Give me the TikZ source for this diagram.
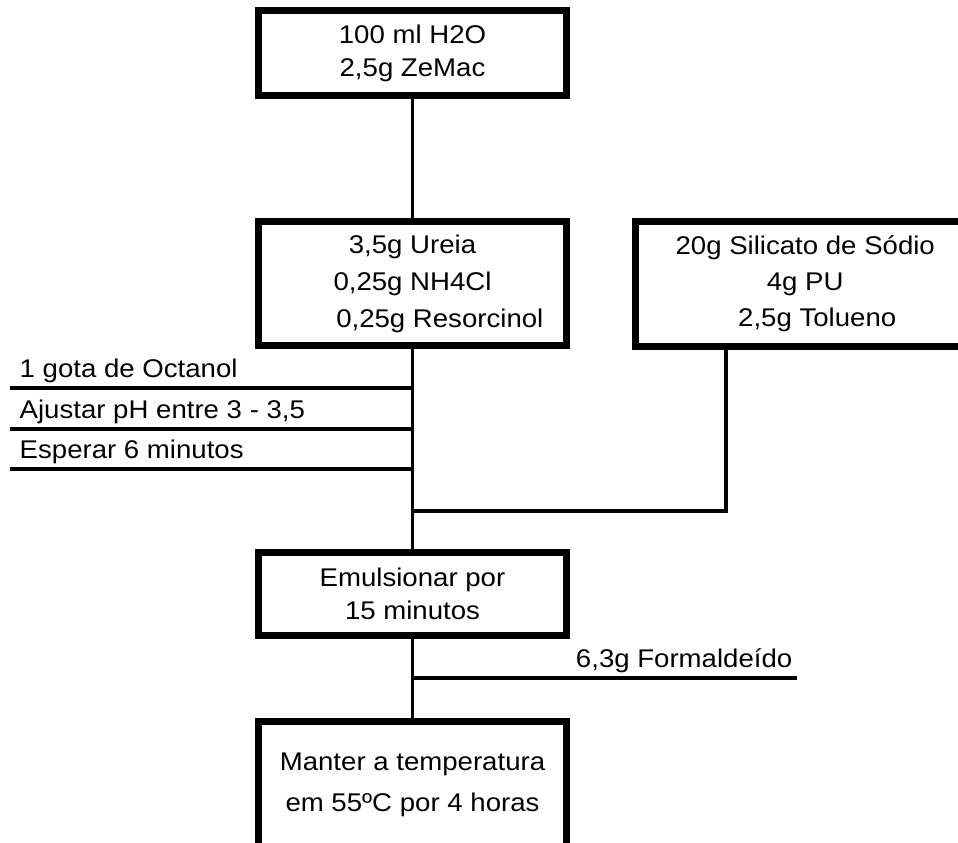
\documentclass[tikz,border=0pt]{standalone}
\usepackage{fontspec}
\setmainfont[FakeStretch=1.078]{Liberation Sans}
\tikzset{
  etapa/.style={draw,line width=5.25pt,inner sep=0pt,outer sep=0pt,align=center,minimum width=231pt},
  liga/.style={line width=2.4pt},
}
\begin{document}
\begin{tikzpicture}[x=0.75pt,y=-0.75pt,font=\fontsize{19.2pt}{24.75pt}\selectfont]
  \useasboundingbox (0,0) rectangle (958,843);
  \clip (0,0) rectangle (958,843);
  % etapas
  \node[etapa,minimum height=63.75pt] (h2o) at (412.5,53) {100 ml H2O\\2,5g ZeMac};
  \node[etapa,minimum height=93pt,font=\fontsize{19.2pt}{27.75pt}\selectfont] (ureia) at (412.5,283.5)
    {3,5g Ureia\\0,25g NH4Cl\\\hspace*{41pt}0,25g Resorcinol};
  \node[etapa,minimum height=93.75pt,minimum width=254.6pt,font=\fontsize{19.2pt}{27pt}\selectfont] (silicato) at (805.25,284)
    {20g Silicato de Sódio\\4g PU\hspace*{12pt}\\\hspace*{18pt}2,5g Tolueno};
  \node[etapa,minimum height=62.25pt] (emuls) at (412.5,594) {Emulsionar por\\15 minutos};
  \node[etapa,minimum height=94.9pt,font=\fontsize{19.2pt}{30.75pt}\selectfont] (manter) at (412.5,785)
    {Manter a temperatura\\em 55ºC por 4 horas};
  % ligacoes
  \draw[liga] (h2o) -- (ureia);
  \draw[liga] (ureia) -- (emuls);
  \draw[liga] (emuls) -- (manter);
  \foreach \t/\y [count=\i] in {1 gota de Octanol/388,{Ajustar pH entre 3 - 3,5}/429,Esperar 6 minutos/469}{
    \node[anchor=base west] (passo\i) at (15,\y-11) {\t};
    \coordinate (p\i) at (10,\y);
    \draw[liga] (p\i) -- (p\i -| ureia.south);
  }
  \path (silicato.south) ++(-79.25,0) coordinate (sil);
  \coordinate (junta) at (412.5,511);
  \draw[liga] (sil) |- (junta);
  \coordinate (form) at (797,678);
  \draw[liga] (form) -- (form -| emuls.south);
  \node[anchor=base east] (formal) at (797,667) {6,3g Formaldeído};
\end{tikzpicture}
\end{document}
